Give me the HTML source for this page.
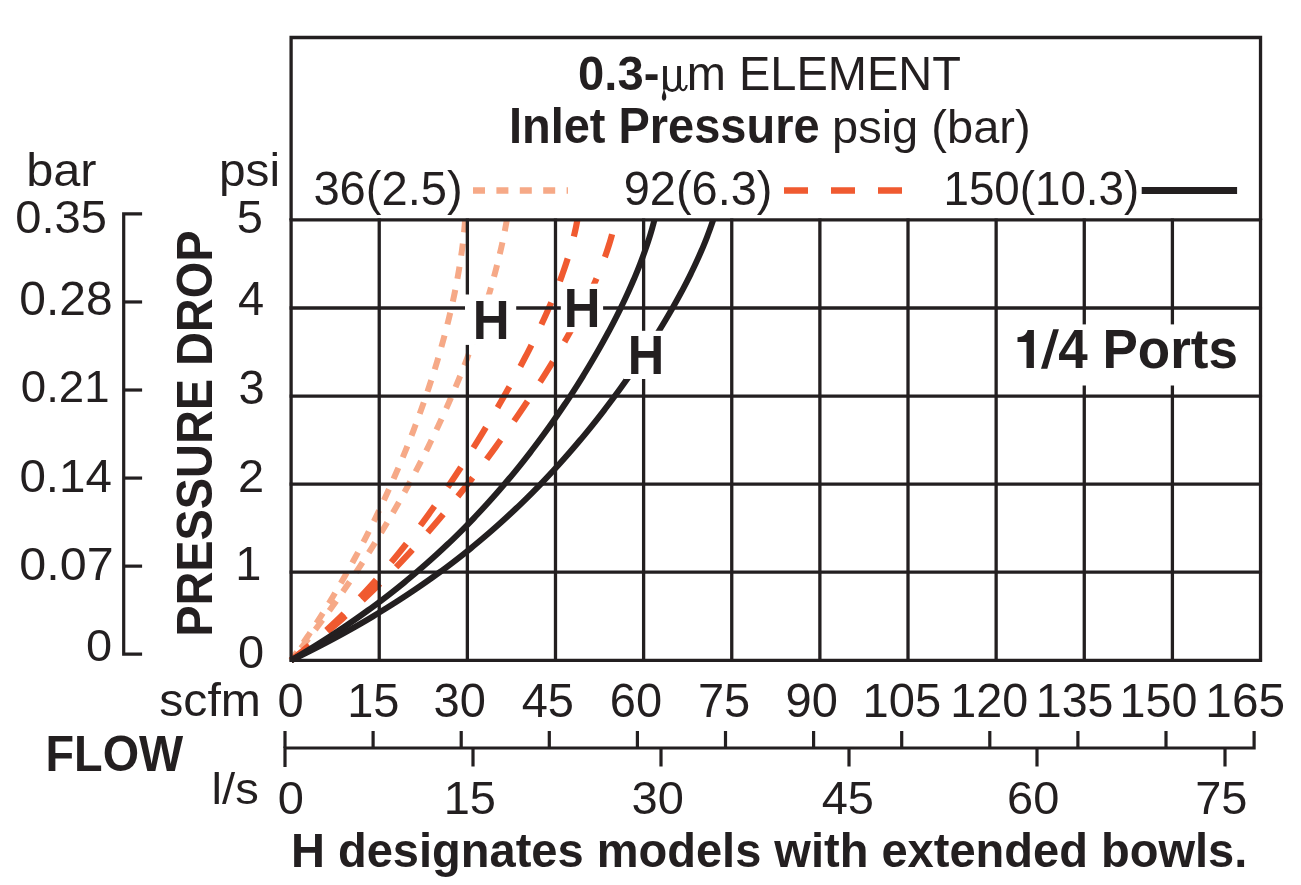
<!DOCTYPE html>
<html><head><meta charset="utf-8"><style>
html,body{margin:0;padding:0;background:#fff;overflow:hidden;}
svg{display:block;will-change:transform;}
text{font-family:"Liberation Sans",sans-serif;fill:#231f20;}
</style></head><body>
<svg width="1301" height="885" viewBox="0 0 1301 885">
<defs><clipPath id="cg"><rect x="285" y="219.9" width="980" height="460"/></clipPath></defs>
<g clip-path="url(#cg)">
<path d="M291.10,660.30 292.53,658.30 293.96,656.30 295.38,654.30 296.79,652.30 298.19,650.30 299.58,648.30 300.96,646.30 302.34,644.30 303.71,642.30 305.07,640.30 306.42,638.30 307.77,636.30 309.11,634.30 310.44,632.30 311.76,630.30 313.07,628.30 314.38,626.30 315.68,624.30 316.97,622.30 318.26,620.30 319.53,618.30 320.81,616.30 322.07,614.30 323.33,612.30 324.58,610.30 325.82,608.30 327.05,606.30 328.28,604.30 329.51,602.30 330.72,600.30 331.93,598.30 333.13,596.30 334.33,594.30 335.52,592.30 336.70,590.30 337.88,588.30 339.05,586.30 340.21,584.30 341.37,582.30 342.52,580.30 343.66,578.30 344.80,576.30 345.93,574.30 347.06,572.30 348.18,570.30 349.29,568.30 350.40,566.30 351.51,564.30 352.60,562.30 353.69,560.30 354.78,558.30 355.86,556.30 356.93,554.30 358.00,552.30 359.06,550.30 360.12,548.30 361.17,546.30 362.22,544.30 363.26,542.30 364.29,540.30 365.32,538.30 366.35,536.30 367.36,534.30 368.38,532.30 369.39,530.30 370.39,528.30 371.39,526.30 372.38,524.30 373.37,522.30 374.35,520.30 375.33,518.30 376.30,516.30 377.26,514.30 378.23,512.30 379.18,510.30 380.13,508.30 381.08,506.30 382.02,504.30 382.96,502.30 383.89,500.30 384.82,498.30 385.74,496.30 386.66,494.30 387.57,492.30 388.48,490.30 389.38,488.30 390.28,486.30 391.17,484.30 392.06,482.30 392.95,480.30 393.83,478.30 394.70,476.30 395.57,474.30 396.44,472.30 397.30,470.30 398.15,468.30 399.00,466.30 399.85,464.30 400.69,462.30 401.53,460.30 402.36,458.30 403.19,456.30 404.01,454.30 404.83,452.30 405.65,450.30 406.46,448.30 407.26,446.30 408.06,444.30 408.86,442.30 409.65,440.30 410.43,438.30 411.22,436.30 411.99,434.30 412.77,432.30 413.54,430.30 414.30,428.30 415.06,426.30 415.81,424.30 416.56,422.30 417.31,420.30 418.05,418.30 418.79,416.30 419.52,414.30 420.25,412.30 420.97,410.30 421.69,408.30 422.40,406.30 423.11,404.30 423.81,402.30 424.51,400.30 425.20,398.30 425.89,396.30 426.58,394.30 427.26,392.30 427.93,390.30 428.61,388.30 429.27,386.30 429.93,384.30 430.59,382.30 431.24,380.30 431.89,378.30 432.53,376.30 433.17,374.30 433.80,372.30 434.43,370.30 435.05,368.30 435.67,366.30 436.28,364.30 436.89,362.30 437.49,360.30 438.09,358.30 438.68,356.30 439.27,354.30 439.85,352.30 440.42,350.30 441.00,348.30 441.56,346.30 442.12,344.30 442.68,342.30 443.23,340.30 443.78,338.30 444.32,336.30 444.85,334.30 445.38,332.30 445.90,330.30 446.42,328.30 446.93,326.30 447.44,324.30 447.94,322.30 448.44,320.30 448.93,318.30 449.41,316.30 449.89,314.30 450.37,312.30 450.83,310.30 451.29,308.30 451.75,306.30 452.20,304.30 452.64,302.30 453.08,300.30 453.51,298.30 453.94,296.30 454.36,294.30 454.77,292.30 455.18,290.30 455.58,288.30 455.97,286.30 456.36,284.30 456.74,282.30 457.12,280.30 457.48,278.30 457.85,276.30 458.20,274.30 458.55,272.30 458.89,270.30 459.23,268.30 459.55,266.30 459.88,264.30 460.19,262.30 460.50,260.30 460.80,258.30 461.09,256.30 461.38,254.30 461.65,252.30 461.93,250.30 462.19,248.30 462.45,246.30 462.70,244.30 462.94,242.30 463.17,240.30 463.40,238.30 463.62,236.30 463.83,234.30 464.03,232.30 464.23,230.30 464.41,228.30 464.59,226.30 464.76,224.30 464.93,222.30 465.08,220.30 465.23,218.30 465.25,218.00" fill="none" stroke="#f6a987" stroke-width="6" stroke-dasharray="12 11.4" stroke-dashoffset="1.85"/>
<path d="M291.10,660.30 292.73,658.30 294.36,656.30 295.98,654.30 297.59,652.30 299.19,650.30 300.78,648.30 302.37,646.30 303.95,644.30 305.52,642.30 307.08,640.30 308.64,638.30 310.18,636.30 311.72,634.30 313.26,632.30 314.78,630.30 316.30,628.30 317.81,626.30 319.32,624.30 320.81,622.30 322.30,620.30 323.78,618.30 325.26,616.30 326.73,614.30 328.19,612.30 329.64,610.30 331.09,608.30 332.53,606.30 333.97,604.30 335.39,602.30 336.81,600.30 338.23,598.30 339.63,596.30 341.03,594.30 342.43,592.30 343.82,590.30 345.20,588.30 346.57,586.30 347.94,584.30 349.30,582.30 350.66,580.30 352.01,578.30 353.35,576.30 354.68,574.30 356.01,572.30 357.34,570.30 358.66,568.30 359.97,566.30 361.27,564.30 362.57,562.30 363.87,560.30 365.16,558.30 366.44,556.30 367.71,554.30 368.98,552.30 370.25,550.30 371.51,548.30 372.76,546.30 374.00,544.30 375.25,542.30 376.48,540.30 377.71,538.30 378.93,536.30 380.15,534.30 381.36,532.30 382.57,530.30 383.77,528.30 384.97,526.30 386.16,524.30 387.34,522.30 388.52,520.30 389.70,518.30 390.87,516.30 392.03,514.30 393.19,512.30 394.34,510.30 395.49,508.30 396.63,506.30 397.77,504.30 398.90,502.30 400.02,500.30 401.14,498.30 402.26,496.30 403.37,494.30 404.47,492.30 405.57,490.30 406.67,488.30 407.76,486.30 408.84,484.30 409.92,482.30 411.00,480.30 412.07,478.30 413.13,476.30 414.19,474.30 415.24,472.30 416.29,470.30 417.33,468.30 418.37,466.30 419.41,464.30 420.44,462.30 421.46,460.30 422.48,458.30 423.49,456.30 424.50,454.30 425.50,452.30 426.50,450.30 427.50,448.30 428.49,446.30 429.47,444.30 430.45,442.30 431.42,440.30 432.39,438.30 433.36,436.30 434.32,434.30 435.27,432.30 436.22,430.30 437.17,428.30 438.11,426.30 439.04,424.30 439.97,422.30 440.90,420.30 441.82,418.30 442.73,416.30 443.64,414.30 444.55,412.30 445.45,410.30 446.34,408.30 447.23,406.30 448.12,404.30 449.00,402.30 449.88,400.30 450.75,398.30 451.61,396.30 452.48,394.30 453.33,392.30 454.18,390.30 455.03,388.30 455.87,386.30 456.71,384.30 457.54,382.30 458.37,380.30 459.19,378.30 460.00,376.30 460.82,374.30 461.62,372.30 462.42,370.30 463.22,368.30 464.01,366.30 464.80,364.30 465.58,362.30 466.35,360.30 467.13,358.30 467.89,356.30 468.65,354.30 469.41,352.30 470.16,350.30 470.90,348.30 471.64,346.30 472.38,344.30 473.11,342.30 473.83,340.30 474.55,338.30 475.27,336.30 475.97,334.30 476.68,332.30 477.38,330.30 478.07,328.30 478.76,326.30 479.44,324.30 480.11,322.30 480.78,320.30 481.45,318.30 482.11,316.30 482.76,314.30 483.41,312.30 484.06,310.30 484.70,308.30 485.33,306.30 485.95,304.30 486.57,302.30 487.19,300.30 487.80,298.30 488.40,296.30 489.00,294.30 489.59,292.30 490.18,290.30 490.76,288.30 491.34,286.30 491.90,284.30 492.47,282.30 493.02,280.30 493.58,278.30 494.12,276.30 494.66,274.30 495.19,272.30 495.72,270.30 496.24,268.30 496.75,266.30 497.26,264.30 497.76,262.30 498.26,260.30 498.75,258.30 499.23,256.30 499.71,254.30 500.18,252.30 500.64,250.30 501.10,248.30 501.55,246.30 501.99,244.30 502.43,242.30 502.86,240.30 503.28,238.30 503.70,236.30 504.11,234.30 504.51,232.30 504.91,230.30 505.30,228.30 505.68,226.30 506.06,224.30 506.43,222.30 506.79,220.30 507.14,218.30 507.20,218.00" fill="none" stroke="#f6a987" stroke-width="6" stroke-dasharray="12 11.4" stroke-dashoffset="7.65"/>
<path d="M291.10,660.30 293.60,658.30 296.08,656.30 298.53,654.30 300.96,652.30 303.37,650.30 305.75,648.30 308.12,646.30 310.46,644.30 312.78,642.30 315.08,640.30 317.36,638.30 319.62,636.30 321.86,634.30 324.08,632.30 326.28,630.30 328.47,628.30 330.63,626.30 332.77,624.30 334.90,622.30 337.00,620.30 339.09,618.30 341.16,616.30 343.22,614.30 345.25,612.30 347.27,610.30 349.28,608.30 351.27,606.30 353.24,604.30 355.19,602.30 357.13,600.30 359.05,598.30 360.96,596.30 362.86,594.30 364.74,592.30 366.60,590.30 368.45,588.30 370.29,586.30 372.11,584.30 373.92,582.30 375.71,580.30 377.49,578.30 379.26,576.30 381.02,574.30 382.76,572.30 384.49,570.30 386.21,568.30 387.92,566.30 389.61,564.30 391.30,562.30 392.97,560.30 394.63,558.30 396.28,556.30 397.92,554.30 399.55,552.30 401.16,550.30 402.77,548.30 404.37,546.30 405.96,544.30 407.53,542.30 409.10,540.30 410.66,538.30 412.21,536.30 413.75,534.30 415.28,532.30 416.80,530.30 418.31,528.30 419.82,526.30 421.31,524.30 422.80,522.30 424.28,520.30 425.75,518.30 427.21,516.30 428.67,514.30 430.12,512.30 431.56,510.30 432.99,508.30 434.41,506.30 435.83,504.30 437.24,502.30 438.65,500.30 440.04,498.30 441.44,496.30 442.82,494.30 444.20,492.30 445.57,490.30 446.93,488.30 448.29,486.30 449.64,484.30 450.99,482.30 452.33,480.30 453.66,478.30 454.99,476.30 456.32,474.30 457.63,472.30 458.94,470.30 460.25,468.30 461.55,466.30 462.85,464.30 464.14,462.30 465.42,460.30 466.70,458.30 467.98,456.30 469.25,454.30 470.51,452.30 471.77,450.30 473.03,448.30 474.28,446.30 475.52,444.30 476.76,442.30 478.00,440.30 479.23,438.30 480.45,436.30 481.67,434.30 482.89,432.30 484.10,430.30 485.31,428.30 486.52,426.30 487.71,424.30 488.91,422.30 490.10,420.30 491.28,418.30 492.46,416.30 493.64,414.30 494.81,412.30 495.98,410.30 497.14,408.30 498.30,406.30 499.45,404.30 500.60,402.30 501.75,400.30 502.89,398.30 504.02,396.30 505.15,394.30 506.28,392.30 507.40,390.30 508.52,388.30 509.63,386.30 510.74,384.30 511.84,382.30 512.94,380.30 514.03,378.30 515.12,376.30 516.21,374.30 517.29,372.30 518.36,370.30 519.43,368.30 520.49,366.30 521.55,364.30 522.60,362.30 523.65,360.30 524.69,358.30 525.73,356.30 526.76,354.30 527.79,352.30 528.81,350.30 529.82,348.30 530.83,346.30 531.83,344.30 532.83,342.30 533.82,340.30 534.80,338.30 535.78,336.30 536.75,334.30 537.72,332.30 538.68,330.30 539.63,328.30 540.58,326.30 541.51,324.30 542.44,322.30 543.37,320.30 544.29,318.30 545.20,316.30 546.10,314.30 546.99,312.30 547.88,310.30 548.76,308.30 549.63,306.30 550.49,304.30 551.35,302.30 552.20,300.30 553.03,298.30 553.86,296.30 554.68,294.30 555.50,292.30 556.30,290.30 557.09,288.30 557.87,286.30 558.65,284.30 559.41,282.30 560.17,280.30 560.91,278.30 561.65,276.30 562.37,274.30 563.08,272.30 563.79,270.30 564.48,268.30 565.16,266.30 565.83,264.30 566.49,262.30 567.13,260.30 567.77,258.30 568.39,256.30 569.00,254.30 569.60,252.30 570.18,250.30 570.75,248.30 571.31,246.30 571.86,244.30 572.39,242.30 572.91,240.30 573.41,238.30 573.90,236.30 574.38,234.30 574.84,232.30 575.29,230.30 575.72,228.30 576.13,226.30 576.53,224.30 576.92,222.30 577.29,220.30 577.64,218.30 577.69,218.00" fill="none" stroke="#f05a30" stroke-width="6.2" stroke-dasharray="24 23" stroke-dashoffset="0.68"/>
<path d="M291.10,660.30 293.76,658.30 296.41,656.30 299.03,654.30 301.63,652.30 304.21,650.30 306.76,648.30 309.30,646.30 311.82,644.30 314.32,642.30 316.80,640.30 319.25,638.30 321.69,636.30 324.12,634.30 326.52,632.30 328.90,630.30 331.27,628.30 333.62,626.30 335.95,624.30 338.26,622.30 340.56,620.30 342.84,618.30 345.10,616.30 347.35,614.30 349.58,612.30 351.79,610.30 353.99,608.30 356.17,606.30 358.34,604.30 360.50,602.30 362.63,600.30 364.76,598.30 366.87,596.30 368.96,594.30 371.04,592.30 373.11,590.30 375.17,588.30 377.21,586.30 379.23,584.30 381.25,582.30 383.25,580.30 385.24,578.30 387.22,576.30 389.18,574.30 391.13,572.30 393.07,570.30 395.00,568.30 396.92,566.30 398.83,564.30 400.72,562.30 402.61,560.30 404.48,558.30 406.34,556.30 408.19,554.30 410.04,552.30 411.87,550.30 413.69,548.30 415.50,546.30 417.30,544.30 419.10,542.30 420.88,540.30 422.65,538.30 424.42,536.30 426.17,534.30 427.92,532.30 429.66,530.30 431.39,528.30 433.11,526.30 434.82,524.30 436.53,522.30 438.22,520.30 439.91,518.30 441.59,516.30 443.26,514.30 444.93,512.30 446.58,510.30 448.23,508.30 449.88,506.30 451.51,504.30 453.14,502.30 454.76,500.30 456.37,498.30 457.98,496.30 459.58,494.30 461.17,492.30 462.76,490.30 464.34,488.30 465.91,486.30 467.48,484.30 469.04,482.30 470.60,480.30 472.15,478.30 473.69,476.30 475.23,474.30 476.76,472.30 478.28,470.30 479.80,468.30 481.31,466.30 482.82,464.30 484.32,462.30 485.81,460.30 487.30,458.30 488.79,456.30 490.27,454.30 491.74,452.30 493.21,450.30 494.67,448.30 496.13,446.30 497.58,444.30 499.02,442.30 500.46,440.30 501.90,438.30 503.33,436.30 504.75,434.30 506.17,432.30 507.59,430.30 508.99,428.30 510.40,426.30 511.80,424.30 513.19,422.30 514.58,420.30 515.96,418.30 517.34,416.30 518.71,414.30 520.07,412.30 521.43,410.30 522.79,408.30 524.14,406.30 525.48,404.30 526.82,402.30 528.16,400.30 529.49,398.30 530.81,396.30 532.13,394.30 533.44,392.30 534.75,390.30 536.05,388.30 537.34,386.30 538.63,384.30 539.91,382.30 541.19,380.30 542.46,378.30 543.73,376.30 544.99,374.30 546.24,372.30 547.49,370.30 548.73,368.30 549.96,366.30 551.19,364.30 552.42,362.30 553.63,360.30 554.84,358.30 556.04,356.30 557.24,354.30 558.43,352.30 559.61,350.30 560.78,348.30 561.95,346.30 563.11,344.30 564.27,342.30 565.41,340.30 566.55,338.30 567.68,336.30 568.81,334.30 569.92,332.30 571.03,330.30 572.13,328.30 573.22,326.30 574.30,324.30 575.38,322.30 576.44,320.30 577.50,318.30 578.55,316.30 579.59,314.30 580.62,312.30 581.64,310.30 582.66,308.30 583.66,306.30 584.65,304.30 585.64,302.30 586.61,300.30 587.57,298.30 588.53,296.30 589.47,294.30 590.40,292.30 591.32,290.30 592.24,288.30 593.14,286.30 594.02,284.30 594.90,282.30 595.77,280.30 596.62,278.30 597.47,276.30 598.30,274.30 599.11,272.30 599.92,270.30 600.71,268.30 601.49,266.30 602.26,264.30 603.02,262.30 603.76,260.30 604.48,258.30 605.20,256.30 605.90,254.30 606.58,252.30 607.25,250.30 607.91,248.30 608.55,246.30 609.18,244.30 609.79,242.30 610.38,240.30 610.96,238.30 611.53,236.30 612.08,234.30 612.61,232.30 613.12,230.30 613.62,228.30 614.10,226.30 614.57,224.30 615.01,222.30 615.44,220.30 615.85,218.30 615.91,218.00" fill="none" stroke="#f05a30" stroke-width="6.2" stroke-dasharray="24 23" stroke-dashoffset="0.57"/>
<path d="M291.10,660.30 294.52,658.30 297.91,656.30 301.27,654.30 304.60,652.30 307.90,650.30 311.17,648.30 314.41,646.30 317.62,644.30 320.81,642.30 323.96,640.30 327.09,638.30 330.19,636.30 333.26,634.30 336.30,632.30 339.32,630.30 342.31,628.30 345.28,626.30 348.22,624.30 351.13,622.30 354.02,620.30 356.88,618.30 359.72,616.30 362.54,614.30 365.33,612.30 368.09,610.30 370.83,608.30 373.55,606.30 376.25,604.30 378.92,602.30 381.57,600.30 384.20,598.30 386.80,596.30 389.39,594.30 391.95,592.30 394.49,590.30 397.01,588.30 399.51,586.30 401.99,584.30 404.45,582.30 406.88,580.30 409.30,578.30 411.70,576.30 414.08,574.30 416.44,572.30 418.78,570.30 421.10,568.30 423.40,566.30 425.69,564.30 427.96,562.30 430.20,560.30 432.44,558.30 434.65,556.30 436.85,554.30 439.03,552.30 441.19,550.30 443.34,548.30 445.47,546.30 447.58,544.30 449.68,542.30 451.76,540.30 453.83,538.30 455.88,536.30 457.91,534.30 459.93,532.30 461.94,530.30 463.93,528.30 465.91,526.30 467.87,524.30 469.82,522.30 471.75,520.30 473.67,518.30 475.58,516.30 477.47,514.30 479.35,512.30 481.22,510.30 483.07,508.30 484.91,506.30 486.74,504.30 488.56,502.30 490.36,500.30 492.15,498.30 493.93,496.30 495.70,494.30 497.46,492.30 499.20,490.30 500.93,488.30 502.65,486.30 504.36,484.30 506.06,482.30 507.75,480.30 509.43,478.30 511.09,476.30 512.75,474.30 514.40,472.30 516.03,470.30 517.65,468.30 519.27,466.30 520.87,464.30 522.47,462.30 524.05,460.30 525.63,458.30 527.19,456.30 528.75,454.30 530.30,452.30 531.83,450.30 533.36,448.30 534.88,446.30 536.39,444.30 537.89,442.30 539.38,440.30 540.87,438.30 542.34,436.30 543.81,434.30 545.26,432.30 546.71,430.30 548.15,428.30 549.59,426.30 551.01,424.30 552.43,422.30 553.83,420.30 555.23,418.30 556.62,416.30 558.01,414.30 559.38,412.30 560.75,410.30 562.11,408.30 563.46,406.30 564.81,404.30 566.14,402.30 567.47,400.30 568.80,398.30 570.11,396.30 571.42,394.30 572.71,392.30 574.01,390.30 575.29,388.30 576.57,386.30 577.84,384.30 579.10,382.30 580.35,380.30 581.60,378.30 582.84,376.30 584.07,374.30 585.30,372.30 586.51,370.30 587.72,368.30 588.93,366.30 590.12,364.30 591.31,362.30 592.49,360.30 593.67,358.30 594.83,356.30 595.99,354.30 597.15,352.30 598.29,350.30 599.43,348.30 600.56,346.30 601.68,344.30 602.80,342.30 603.90,340.30 605.00,338.30 606.10,336.30 607.18,334.30 608.26,332.30 609.33,330.30 610.39,328.30 611.44,326.30 612.49,324.30 613.53,322.30 614.56,320.30 615.58,318.30 616.60,316.30 617.60,314.30 618.60,312.30 619.59,310.30 620.58,308.30 621.55,306.30 622.52,304.30 623.47,302.30 624.42,300.30 625.36,298.30 626.29,296.30 627.22,294.30 628.13,292.30 629.04,290.30 629.93,288.30 630.82,286.30 631.70,284.30 632.57,282.30 633.43,280.30 634.28,278.30 635.12,276.30 635.95,274.30 636.77,272.30 637.59,270.30 638.39,268.30 639.18,266.30 639.96,264.30 640.73,262.30 641.49,260.30 642.24,258.30 642.98,256.30 643.71,254.30 644.43,252.30 645.14,250.30 645.84,248.30 646.52,246.30 647.20,244.30 647.86,242.30 648.51,240.30 649.15,238.30 649.78,236.30 650.39,234.30 650.99,232.30 651.58,230.30 652.16,228.30 652.73,226.30 653.28,224.30 653.82,222.30 654.34,220.30 654.86,218.30 654.93,218.00" fill="none" stroke="#231f20" stroke-width="6"/>
<path d="M291.10,660.30 295.22,658.30 299.30,656.30 303.33,654.30 307.33,652.30 311.29,650.30 315.21,648.30 319.10,646.30 322.94,644.30 326.75,642.30 330.52,640.30 334.26,638.30 337.96,636.30 341.62,634.30 345.25,632.30 348.84,630.30 352.40,628.30 355.93,626.30 359.42,624.30 362.88,622.30 366.30,620.30 369.70,618.30 373.06,616.30 376.39,614.30 379.68,612.30 382.95,610.30 386.19,608.30 389.39,606.30 392.57,604.30 395.72,602.30 398.84,600.30 401.92,598.30 404.99,596.30 408.02,594.30 411.02,592.30 414.00,590.30 416.95,588.30 419.87,586.30 422.77,584.30 425.64,582.30 428.49,580.30 431.31,578.30 434.10,576.30 436.87,574.30 439.62,572.30 442.34,570.30 445.04,568.30 447.71,566.30 450.36,564.30 452.99,562.30 455.59,560.30 458.18,558.30 460.74,556.30 463.28,554.30 465.79,552.30 468.29,550.30 470.77,548.30 473.22,546.30 475.66,544.30 478.07,542.30 480.46,540.30 482.84,538.30 485.19,536.30 487.53,534.30 489.85,532.30 492.15,530.30 494.43,528.30 496.69,526.30 498.94,524.30 501.16,522.30 503.37,520.30 505.57,518.30 507.74,516.30 509.90,514.30 512.05,512.30 514.17,510.30 516.29,508.30 518.38,506.30 520.46,504.30 522.53,502.30 524.58,500.30 526.61,498.30 528.63,496.30 530.64,494.30 532.63,492.30 534.61,490.30 536.57,488.30 538.52,486.30 540.46,484.30 542.38,482.30 544.29,480.30 546.19,478.30 548.07,476.30 549.94,474.30 551.80,472.30 553.65,470.30 555.48,468.30 557.31,466.30 559.12,464.30 560.92,462.30 562.71,460.30 564.48,458.30 566.25,456.30 568.00,454.30 569.75,452.30 571.48,450.30 573.20,448.30 574.92,446.30 576.62,444.30 578.31,442.30 579.99,440.30 581.66,438.30 583.32,436.30 584.98,434.30 586.62,432.30 588.25,430.30 589.88,428.30 591.49,426.30 593.09,424.30 594.69,422.30 596.28,420.30 597.86,418.30 599.42,416.30 600.98,414.30 602.54,412.30 604.08,410.30 605.61,408.30 607.14,406.30 608.66,404.30 610.17,402.30 611.67,400.30 613.16,398.30 614.65,396.30 616.12,394.30 617.59,392.30 619.06,390.30 620.51,388.30 621.95,386.30 623.39,384.30 624.82,382.30 626.24,380.30 627.66,378.30 629.07,376.30 630.47,374.30 631.86,372.30 633.24,370.30 634.62,368.30 635.99,366.30 637.35,364.30 638.70,362.30 640.05,360.30 641.39,358.30 642.72,356.30 644.04,354.30 645.36,352.30 646.67,350.30 647.97,348.30 649.27,346.30 650.55,344.30 651.83,342.30 653.10,340.30 654.37,338.30 655.62,336.30 656.87,334.30 658.11,332.30 659.35,330.30 660.57,328.30 661.79,326.30 663.00,324.30 664.20,322.30 665.40,320.30 666.58,318.30 667.76,316.30 668.93,314.30 670.09,312.30 671.25,310.30 672.39,308.30 673.53,306.30 674.66,304.30 675.78,302.30 676.89,300.30 677.99,298.30 679.09,296.30 680.17,294.30 681.25,292.30 682.32,290.30 683.37,288.30 684.42,286.30 685.46,284.30 686.49,282.30 687.51,280.30 688.52,278.30 689.53,276.30 690.52,274.30 691.50,272.30 692.47,270.30 693.43,268.30 694.38,266.30 695.32,264.30 696.25,262.30 697.17,260.30 698.08,258.30 698.98,256.30 699.86,254.30 700.74,252.30 701.60,250.30 702.45,248.30 703.29,246.30 704.12,244.30 704.93,242.30 705.74,240.30 706.53,238.30 707.31,236.30 708.07,234.30 708.83,232.30 709.56,230.30 710.29,228.30 711.00,226.30 711.70,224.30 712.39,222.30 713.06,220.30 713.72,218.30 713.81,218.00" fill="none" stroke="#231f20" stroke-width="6"/>
</g>
<g stroke="#231f20" stroke-width="3.3" stroke-linecap="butt">
<line x1="291.10" y1="218.40" x2="291.10" y2="661.80"/>
<line x1="379.23" y1="218.40" x2="379.23" y2="661.80"/>
<line x1="467.36" y1="218.40" x2="467.36" y2="661.80"/>
<line x1="555.49" y1="218.40" x2="555.49" y2="661.80"/>
<line x1="643.62" y1="218.40" x2="643.62" y2="661.80"/>
<line x1="731.75" y1="218.40" x2="731.75" y2="661.80"/>
<line x1="819.88" y1="218.40" x2="819.88" y2="661.80"/>
<line x1="908.01" y1="218.40" x2="908.01" y2="661.80"/>
<line x1="996.14" y1="218.40" x2="996.14" y2="661.80"/>
<line x1="1084.27" y1="218.40" x2="1084.27" y2="661.80"/>
<line x1="1172.40" y1="218.40" x2="1172.40" y2="661.80"/>
<line x1="1260.53" y1="218.40" x2="1260.53" y2="661.80"/>
<line x1="289.60" y1="219.90" x2="1262.03" y2="219.90"/>
<line x1="289.60" y1="307.98" x2="1262.03" y2="307.98"/>
<line x1="289.60" y1="396.06" x2="1262.03" y2="396.06"/>
<line x1="289.60" y1="484.14" x2="1262.03" y2="484.14"/>
<line x1="289.60" y1="572.22" x2="1262.03" y2="572.22"/>
<line x1="289.60" y1="660.30" x2="1262.03" y2="660.30"/>
<polyline points="291.10,219.90 291.10,37.5 1260.53,37.5 1260.53,219.90" fill="none" stroke-linejoin="miter"/>
<polyline points="142.1,213.90 123.7,213.90 123.7,654.20 142.1,654.20" fill="none" stroke-width="3.2"/>
<line x1="123.7" y1="301.96" x2="142.1" y2="301.96" stroke-width="3.2"/>
<line x1="123.7" y1="390.02" x2="142.1" y2="390.02" stroke-width="3.2"/>
<line x1="123.7" y1="478.08" x2="142.1" y2="478.08" stroke-width="3.2"/>
<line x1="123.7" y1="566.14" x2="142.1" y2="566.14" stroke-width="3.2"/>
<polyline points="285.0,767 285.0,748.0 1254.10,748.0 1254.10,731" fill="none" stroke-width="3.2"/>
<line x1="285.0" y1="731" x2="285.0" y2="748.0" stroke-width="3.2"/>
<line x1="373.10" y1="731" x2="373.10" y2="748.0" stroke-width="3.2"/>
<line x1="461.20" y1="731" x2="461.20" y2="748.0" stroke-width="3.2"/>
<line x1="549.30" y1="731" x2="549.30" y2="748.0" stroke-width="3.2"/>
<line x1="637.40" y1="731" x2="637.40" y2="748.0" stroke-width="3.2"/>
<line x1="725.50" y1="731" x2="725.50" y2="748.0" stroke-width="3.2"/>
<line x1="813.60" y1="731" x2="813.60" y2="748.0" stroke-width="3.2"/>
<line x1="901.70" y1="731" x2="901.70" y2="748.0" stroke-width="3.2"/>
<line x1="989.80" y1="731" x2="989.80" y2="748.0" stroke-width="3.2"/>
<line x1="1077.90" y1="731" x2="1077.90" y2="748.0" stroke-width="3.2"/>
<line x1="1166.00" y1="731" x2="1166.00" y2="748.0" stroke-width="3.2"/>
<line x1="473.00" y1="748.0" x2="473.00" y2="766.5" stroke-width="3.2"/>
<line x1="661.00" y1="748.0" x2="661.00" y2="766.5" stroke-width="3.2"/>
<line x1="849.00" y1="748.0" x2="849.00" y2="766.5" stroke-width="3.2"/>
<line x1="1037.00" y1="748.0" x2="1037.00" y2="766.5" stroke-width="3.2"/>
<line x1="1225.00" y1="748.0" x2="1225.00" y2="766.5" stroke-width="3.2"/>
</g>
<rect x="465.0" y="294.5" width="51.2" height="50.4" fill="#fff"/>
<rect x="560.8" y="283.7" width="42.3" height="48.5" fill="#fff"/>
<rect x="624" y="330.8" width="44.0" height="48.2" fill="#fff"/>
<rect x="1010" y="324.4" width="235.0" height="61.1" fill="#fff"/>
<line x1="473" y1="190.5" x2="568" y2="190.5" stroke="#f6a987" stroke-width="6.6" stroke-dasharray="12 11.4"/>
<line x1="784" y1="190.5" x2="902" y2="190.5" stroke="#f05a30" stroke-width="6.6" stroke-dasharray="24 23"/>
<line x1="1141.7" y1="190.5" x2="1237.1" y2="190.5" stroke="#231f20" stroke-width="6.8"/>
<text transform="translate(578.11,89.82) scale(1,1.0234)" font-size="47.20" font-weight="bold">0.3-</text>
<g fill="none" stroke="#231f20"><path d="M665,66 V89.5" stroke-width="3.9"/><path d="M679.05,66 V86" stroke-width="3.9"/><path d="M665.5,81 C665.8,88.6 668.8,90.6 672.2,90.6 C675.8,90.6 678.6,88.2 679,81" stroke-width="3.0"/><path d="M679.2,83 C679.6,89.5 682.6,90.9 684.6,89.6 C685.8,88.8 686.5,87.2 686.7,85" stroke-width="2.2"/></g><path d="M664.2,88.5 C664.6,92 666.6,94.5 666.3,97.5 C666.1,100 664.6,100.8 663.8,100.7 C662.4,100.4 661.6,98.8 661.9,96.5 C662.3,93.8 663.6,92 663.8,88.5 Z" fill="#231f20"/>
<text transform="translate(686.80,89.80) scale(1,1.0424)" font-size="46.99" font-weight="normal">m ELEMENT</text>
<text transform="translate(508.90,143.00) scale(1,1.0489)" font-size="46.98" font-weight="bold">Inlet Pressure</text>
<text transform="translate(831.99,142.83) scale(1,0.9933)" font-size="47.05" font-weight="normal">psig (bar)</text>
<text transform="translate(313.41,205.22) scale(1,1.0166)" font-size="47.10" font-weight="normal">36(2.5)</text>
<text transform="translate(623.74,205.22) scale(1,1.0203)" font-size="46.93" font-weight="normal">92(6.3)</text>
<text transform="translate(943.52,205.22) scale(1,1.0471)" font-size="45.73" font-weight="normal">150(10.3)</text>
<text transform="translate(26.18,185.84) scale(1,0.9487)" font-size="48.68" font-weight="normal">bar</text>
<text transform="translate(218.94,186.00) scale(1,0.9734)" font-size="47.82" font-weight="normal">psi</text>
<text transform="translate(15.31,233.03) scale(1,0.9966)" font-size="47.05" font-weight="normal">0.35</text>
<text transform="translate(19.28,315.32) scale(1,1.0013)" font-size="47.96" font-weight="normal">0.28</text>
<text transform="translate(20.77,401.75) scale(1,0.9809)" font-size="45.65" font-weight="normal">0.21</text>
<text transform="translate(19.39,491.64) scale(1,0.9683)" font-size="47.55" font-weight="normal">0.14</text>
<text transform="translate(19.36,580.04) scale(1,0.9477)" font-size="48.44" font-weight="normal">0.07</text>
<text transform="translate(85.88,661.35) scale(1,0.9617)" font-size="47.00" font-weight="normal">0</text>
<text transform="translate(236.73,233.14) scale(1,0.9815)" font-size="47.00" font-weight="normal">5</text>
<text transform="translate(238.12,315.00) scale(1,1.0205)" font-size="47.00" font-weight="normal">4</text>
<text transform="translate(238.38,403.52) scale(1,1.0278)" font-size="47.00" font-weight="normal">3</text>
<text transform="translate(237.93,491.70) scale(1,0.9968)" font-size="47.00" font-weight="normal">2</text>
<text transform="translate(235.18,579.70) scale(1,1.0236)" font-size="47.00" font-weight="normal">1</text>
<text transform="translate(237.98,668.03) scale(1,1.0007)" font-size="47.00" font-weight="normal">0</text>
<text transform="translate(212.1,633.7) rotate(-90) scale(1,1.06)" font-size="46.87" font-weight="bold" x="-3.09" y="0">PRESSURE DROP</text>
<text transform="translate(159.25,716.30) scale(1,0.9692)" font-size="48.17" font-weight="normal">scfm</text>
<text transform="translate(277.53,717.03) scale(1,1.0067)" font-size="47.00" font-weight="normal">0</text>
<text transform="translate(347.17,717.03) scale(1,1.0067)" font-size="47.00" font-weight="normal">15</text>
<text transform="translate(433.57,717.03) scale(1,1.0067)" font-size="47.00" font-weight="normal">30</text>
<text transform="translate(521.74,717.03) scale(1,1.0067)" font-size="47.00" font-weight="normal">45</text>
<text transform="translate(609.84,717.03) scale(1,1.0067)" font-size="47.00" font-weight="normal">60</text>
<text transform="translate(697.93,717.03) scale(1,1.0067)" font-size="47.00" font-weight="normal">75</text>
<text transform="translate(785.58,717.03) scale(1,1.0067)" font-size="47.00" font-weight="normal">90</text>
<text transform="translate(862.62,717.03) scale(1,1.0033)" font-size="47.16" font-weight="normal">105</text>
<text transform="translate(950.25,717.03) scale(1,1.0128)" font-size="46.72" font-weight="normal">120</text>
<text transform="translate(1035.86,717.03) scale(1,1.0172)" font-size="46.52" font-weight="normal">135</text>
<text transform="translate(1119.45,717.03) scale(1,1.0128)" font-size="46.72" font-weight="normal">150</text>
<text transform="translate(1205.37,717.03) scale(1,0.9911)" font-size="47.74" font-weight="normal">165</text>
<text transform="translate(211.59,803.90) scale(1,0.9538)" font-size="47.21" font-weight="normal">l/s</text>
<text transform="translate(277.83,814.24) scale(1,0.9827)" font-size="47.00" font-weight="normal">0</text>
<text transform="translate(443.72,814.24) scale(1,0.9827)" font-size="47.00" font-weight="normal">15</text>
<text transform="translate(631.57,814.24) scale(1,0.9827)" font-size="47.00" font-weight="normal">30</text>
<text transform="translate(821.74,814.24) scale(1,0.9827)" font-size="47.00" font-weight="normal">45</text>
<text transform="translate(1007.09,814.24) scale(1,0.9827)" font-size="47.00" font-weight="normal">60</text>
<text transform="translate(1195.18,814.24) scale(1,0.9827)" font-size="47.00" font-weight="normal">75</text>
<text transform="translate(45.51,770.90) scale(1,1.0559)" font-size="46.80" font-weight="bold">FLOW</text>
<text transform="translate(290.90,866.90) scale(1,1.0384)" font-size="47.03" font-weight="bold">H designates models with extended bowls.</text>
<text transform="translate(472.73,338.80) scale(1,1.0740)" font-size="51.02" font-weight="bold">H</text>
<text transform="translate(563.74,326.80) scale(1,1.0805)" font-size="50.85" font-weight="bold">H</text>
<text transform="translate(627.87,373.80) scale(1,1.0820)" font-size="50.51" font-weight="bold">H</text>
<path d="M1017.5,337.2 C1022.5,337 1026.3,335 1027.6,330 H1033.9 V367.9 H1026.5 V341.9 H1017.5 Z M1053.2,329.3 H1058.9 L1047.3,368.8 H1041 Z" fill="#231f20"/>
<text transform="translate(1058.36,367.90) scale(1,1.0400)" font-size="52.97" font-weight="bold">4 Ports</text>
</svg>
</body></html>
